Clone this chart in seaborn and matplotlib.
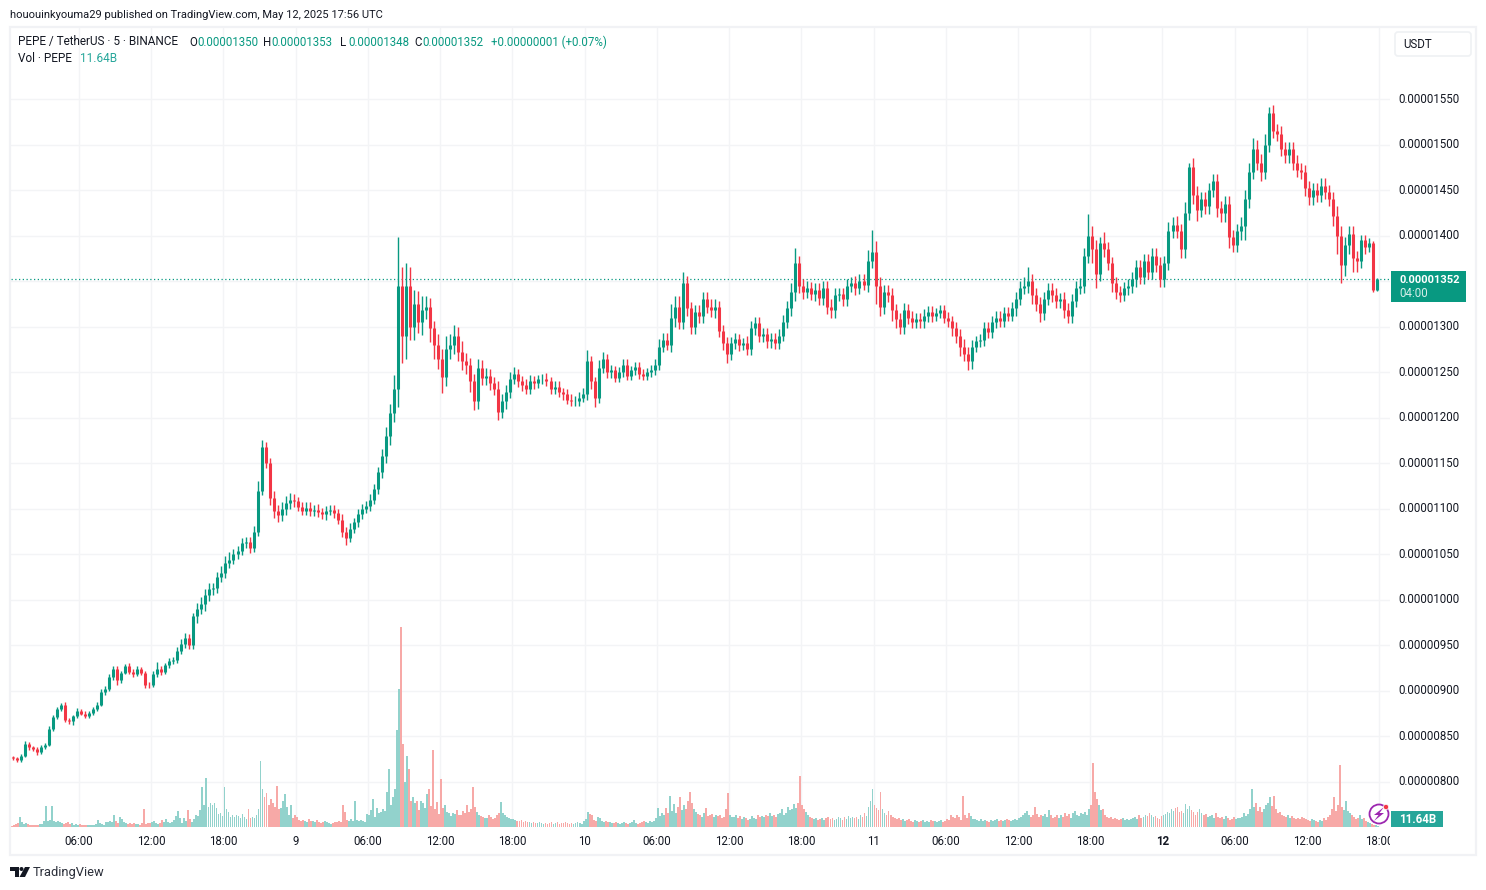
import matplotlib
matplotlib.use("Agg")
import matplotlib.pyplot as plt
import numpy as np
import seaborn as sns
from matplotlib.patches import Circle, FancyBboxPatch, Polygon, Rectangle
from matplotlib.transforms import Bbox, TransformedBbox

UP = "#089981"
DOWN = "#f23645"
VOL_UP = "#92d2cc"
VOL_DOWN = "#f7a9a7"
GRID = "#f3f4f6"
TEXT = "#131722"

# 20 minute bars, prices in 1e-8 USDT, first bar May 8 00:30
close = [
    826, 824, 829, 842, 838, 836, 833, 838, 841, 858,
    871, 880, 884, 868, 867, 872, 878, 875, 872, 876,
    880, 885, 899, 902, 915, 924, 912, 920, 927, 921,
    918, 924, 920, 907, 906, 918, 924, 921, 928, 933,
    934, 944, 952, 958, 950, 982, 990, 995, 1005, 1012,
    1013, 1025, 1030, 1040, 1044, 1050, 1054, 1062, 1064, 1057,
    1075, 1120, 1168, 1150, 1112, 1098, 1093, 1100, 1106, 1110,
    1108, 1102, 1098, 1101, 1097, 1099, 1096, 1094, 1098, 1099,
    1095, 1088, 1075, 1068, 1078, 1085, 1094, 1100, 1103, 1110,
    1122, 1140, 1158, 1180, 1205, 1232, 1345, 1290, 1345, 1300,
    1325, 1305, 1318, 1322, 1298, 1280, 1265, 1245, 1275, 1280,
    1290, 1272, 1262, 1258, 1240, 1218, 1255, 1244, 1246, 1238,
    1232, 1206, 1218, 1228, 1243, 1248, 1240, 1236, 1232, 1240,
    1238, 1242, 1243, 1240, 1232, 1234, 1228, 1226, 1220, 1218,
    1218, 1222, 1226, 1262, 1240, 1222, 1255, 1264, 1250, 1252,
    1244, 1250, 1258, 1246, 1252, 1256, 1248, 1246, 1250, 1252,
    1258, 1278, 1285, 1280, 1310, 1322, 1305, 1348, 1320, 1300,
    1316, 1312, 1330, 1322, 1318, 1322, 1295, 1282, 1270, 1282,
    1286, 1280, 1282, 1276, 1298, 1304, 1290, 1292, 1284, 1286,
    1282, 1290, 1305, 1320, 1338, 1370, 1345, 1338, 1342, 1336,
    1340, 1332, 1342, 1322, 1318, 1335, 1336, 1330, 1345, 1348,
    1342, 1350, 1346, 1372, 1382, 1345, 1322, 1338, 1335, 1318,
    1308, 1300, 1318, 1310, 1305, 1308, 1306, 1312, 1316, 1312,
    1315, 1318, 1310, 1306, 1298, 1290, 1278, 1270, 1262, 1278,
    1284, 1285, 1298, 1294, 1305, 1310, 1306, 1315, 1312, 1320,
    1330, 1342, 1345, 1350, 1335, 1325, 1315, 1330, 1340, 1335,
    1328, 1330, 1318, 1312, 1328, 1342, 1345, 1378, 1400, 1385,
    1358, 1392, 1385, 1370, 1348, 1338, 1335, 1342, 1345, 1352,
    1365, 1355, 1372, 1360, 1378, 1368, 1352, 1370, 1405, 1412,
    1405, 1385, 1425, 1475, 1445, 1428, 1440, 1432, 1450, 1460,
    1430, 1425, 1435, 1398, 1390, 1405, 1410, 1440, 1470, 1495,
    1480, 1470, 1500, 1535, 1515, 1512, 1495, 1488, 1495, 1480,
    1472, 1470, 1452, 1442, 1450, 1445, 1455, 1448, 1440, 1422,
    1400, 1368, 1390, 1402, 1375, 1372, 1395, 1388, 1392, 1340,
    1352,
]
wick_up = [
    2, 1, 2, 3, 2, 2, 2, 3, 2, 3,
    2, 2, 3, 4, 2, 2, 3, 2, 3, 2,
    2, 3, 3, 3, 4, 3, 3, 2, 3, 4,
    3, 3, 2, 2, 3, 4, 8, 3, 3, 3,
    3, 4, 5, 6, 5, 4, 6, 8, 7, 6,
    6, 6, 7, 8, 8, 6, 5, 6, 5, 5,
    6, 10, 8, 5, 6, 8, 6, 7, 8, 7,
    6, 5, 5, 6, 6, 5, 6, 5, 5, 5,
    5, 5, 6, 5, 6, 5, 6, 5, 5, 6,
    5, 6, 8, 10, 10, 15, 53, 20, 25, 20,
    15, 14, 16, 12, 10, 8, 12, 10, 15, 12,
    12, 10, 12, 9, 8, 8, 10, 8, 9, 8,
    7, 8, 8, 8, 7, 8, 6, 6, 6, 7,
    6, 5, 5, 6, 5, 6, 6, 5, 5, 6,
    6, 6, 7, 12, 6, 5, 8, 8, 6, 6,
    5, 6, 6, 6, 5, 5, 5, 5, 5, 6,
    6, 8, 8, 8, 15, 12, 12, 12, 8, 7,
    8, 8, 8, 8, 8, 8, 6, 7, 7, 7,
    7, 6, 6, 8, 8, 7, 7, 7, 7, 7,
    7, 7, 8, 8, 10, 16, 8, 7, 8, 7,
    8, 8, 8, 8, 8, 7, 7, 7, 7, 7,
    8, 8, 8, 12, 24, 12, 10, 8, 8, 8,
    7, 7, 8, 7, 7, 7, 7, 7, 7, 7,
    6, 6, 6, 6, 6, 7, 7, 8, 8, 7,
    6, 7, 7, 7, 7, 7, 7, 7, 7, 7,
    8, 8, 10, 15, 8, 8, 8, 8, 8, 8,
    8, 7, 8, 8, 8, 8, 8, 8, 24, 10,
    10, 6, 12, 8, 7, 7, 7, 7, 7, 8,
    8, 8, 8, 8, 8, 8, 8, 8, 10, 8,
    10, 8, 12, 5, 10, 10, 8, 8, 8, 8,
    8, 8, 8, 8, 8, 8, 10, 10, 10, 12,
    10, 10, 12, 6, 8, 8, 8, 8, 8, 8,
    8, 8, 8, 8, 8, 8, 8, 8, 8, 8,
    10, 10, 8, 8, 8, 8, 6, 6, 5, 2,
    1,
]
wick_down = [
    2, 2, 2, 2, 3, 2, 3, 2, 2, 2,
    2, 2, 2, 2, 3, 4, 2, 2, 2, 2,
    2, 2, 2, 3, 2, 3, 5, 3, 2, 2,
    3, 2, 3, 4, 3, 2, 3, 4, 2, 3,
    3, 3, 4, 5, 4, 4, 8, 6, 7, 6,
    7, 5, 5, 6, 5, 5, 5, 5, 5, 6,
    5, 5, 5, 5, 8, 8, 7, 6, 7, 6,
    6, 5, 5, 5, 5, 5, 5, 5, 6, 5,
    5, 5, 6, 8, 5, 5, 5, 5, 5, 5,
    5, 6, 6, 8, 10, 10, 20, 30, 25, 15,
    15, 12, 14, 10, 15, 15, 12, 18, 10, 10,
    10, 10, 10, 10, 12, 10, 8, 8, 8, 8,
    7, 8, 6, 8, 6, 6, 6, 7, 6, 6,
    6, 5, 5, 5, 6, 6, 5, 6, 5, 5,
    5, 5, 5, 6, 8, 10, 6, 6, 6, 6,
    5, 5, 5, 5, 5, 5, 5, 5, 5, 5,
    5, 6, 6, 6, 8, 10, 8, 8, 8, 8,
    8, 8, 8, 7, 7, 8, 6, 8, 10, 7,
    7, 7, 6, 7, 7, 7, 7, 7, 7, 7,
    7, 7, 6, 6, 8, 10, 8, 8, 7, 7,
    8, 8, 8, 8, 8, 8, 7, 7, 7, 7,
    7, 6, 6, 8, 8, 20, 10, 8, 8, 12,
    10, 8, 8, 7, 7, 7, 7, 7, 7, 7,
    6, 6, 6, 6, 8, 8, 10, 8, 10, 8,
    6, 6, 6, 6, 6, 6, 6, 6, 6, 6,
    8, 6, 6, 8, 10, 8, 10, 8, 6, 8,
    8, 8, 8, 8, 8, 6, 6, 8, 8, 15,
    15, 8, 8, 8, 10, 8, 8, 7, 7, 8,
    8, 8, 8, 8, 8, 8, 8, 8, 8, 8,
    8, 10, 10, 8, 10, 12, 8, 8, 8, 8,
    10, 10, 10, 12, 8, 8, 10, 15, 10, 8,
    8, 10, 8, 8, 8, 8, 8, 8, 8, 8,
    8, 8, 8, 8, 8, 8, 8, 8, 8, 12,
    20, 20, 12, 10, 15, 12, 8, 8, 6, 2,
    1,
]
# two volume readings per candle, in billions
volume = [
    5, 10, 15, 20, 50, 25, 15, 20, 15, 10, 10, 10, 10, 10, 15, 15, 30, 105, 30, 35,
    105, 30, 25, 30, 25, 20, 15, 20, 25, 15, 20, 10, 15, 10, 15, 12, 10, 10, 10, 10,
    10, 10, 15, 35, 20, 15, 10, 25, 25, 30, 25, 60, 30, 20, 50, 40, 25, 20, 15, 20,
    15, 20, 15, 15, 10, 20, 90, 15, 20, 20, 25, 30, 20, 15, 20, 35, 25, 40, 25, 20,
    25, 35, 55, 80, 45, 20, 45, 30, 85, 40, 25, 40, 60, 55, 85, 200, 110, 245, 100, 120,
    110, 120, 95, 65, 70, 55, 200, 90, 75, 50, 60, 50, 60, 55, 45, 65, 50, 40, 90, 45,
    50, 45, 60, 90, 330, 190, 150, 170, 110, 140, 120, 100, 205, 90, 95, 130, 165, 100, 60, 110,
    45, 60, 50, 35, 30, 35, 30, 25, 40, 30, 30, 25, 35, 25, 20, 25, 30, 25, 20, 15,
    20, 25, 25, 30, 25, 110, 75, 35, 30, 40, 30, 130, 35, 30, 35, 30, 25, 65, 60, 85,
    140, 50, 95, 70, 75, 90, 80, 175, 290, 110, 150, 190, 485, 690, 1000, 415, 225, 355, 290, 130,
    150, 120, 130, 85, 130, 120, 95, 165, 190, 105, 385, 90, 125, 65, 240, 95, 110, 75, 70, 55,
    70, 65, 85, 60, 60, 80, 70, 110, 75, 90, 200, 100, 75, 60, 55, 50, 45, 45, 60, 50,
    40, 45, 60, 70, 125, 70, 60, 50, 45, 40, 40, 35, 30, 30, 35, 25, 30, 25, 25, 20,
    25, 20, 20, 25, 20, 15, 20, 15, 20, 25, 15, 20, 25, 15, 20, 20, 25, 20, 15, 20,
    15, 20, 25, 20, 15, 30, 40, 75, 65, 60, 35, 30, 50, 45, 30, 25, 30, 25, 25, 20,
    20, 25, 20, 15, 20, 25, 20, 15, 20, 25, 35, 20, 15, 20, 25, 30, 25, 20, 30, 25,
    30, 45, 95, 55, 70, 60, 95, 70, 155, 80, 115, 70, 100, 150, 85, 110, 90, 130, 175, 120,
    90, 75, 65, 60, 50, 70, 95, 55, 60, 65, 50, 60, 55, 60, 45, 50, 90, 170, 60, 50,
    50, 60, 45, 55, 40, 50, 45, 35, 40, 55, 45, 40, 60, 50, 55, 50, 60, 55, 70, 55,
    60, 50, 65, 70, 90, 60, 70, 100, 85, 90, 115, 95, 120, 255, 110, 90, 75, 60, 50, 45,
    40, 45, 35, 40, 45, 35, 45, 50, 40, 45, 35, 40, 50, 45, 35, 50, 40, 55, 45, 50,
    45, 50, 40, 60, 50, 70, 55, 100, 130, 190, 110, 95, 85, 175, 90, 70, 60, 80, 60, 50,
    45, 40, 45, 35, 40, 30, 35, 40, 30, 25, 35, 30, 25, 30, 35, 25, 30, 25, 35, 30,
    30, 25, 30, 35, 25, 30, 40, 35, 60, 50, 45, 60, 50, 35, 155, 60, 45, 70, 55, 40,
    40, 35, 30, 40, 30, 35, 30, 25, 35, 30, 35, 40, 30, 35, 30, 35, 40, 35, 30, 35,
    40, 35, 45, 50, 60, 70, 80, 60, 50, 60, 100, 65, 50, 60, 55, 65, 50, 85, 60, 45,
    50, 60, 45, 60, 50, 70, 55, 65, 45, 70, 80, 60, 55, 70, 65, 75, 60, 90, 110, 320,
    175, 140, 110, 85, 90, 60, 50, 45, 50, 40, 45, 40, 35, 40, 45, 35, 40, 35, 40, 45,
    50, 40, 60, 45, 50, 60, 55, 70, 60, 50, 55, 45, 40, 55, 60, 65, 75, 70, 90, 80,
    95, 100, 75, 80, 70, 115, 90, 105, 85, 75, 60, 75, 90, 70, 60, 65, 50, 55, 60, 45,
    70, 50, 45, 50, 40, 55, 45, 35, 40, 50, 40, 45, 45, 50, 70, 55, 65, 90, 190, 100,
    120, 80, 100, 75, 90, 110, 120, 150, 105, 155, 90, 70, 75, 60, 55, 50, 60, 45, 55, 45,
    40, 45, 40, 50, 45, 40, 35, 30, 40, 35, 30, 25, 35, 30, 45, 35, 50, 60, 90, 150,
    80, 110, 310, 100, 85, 130, 80, 70, 60, 50, 40, 45, 60, 40, 45, 30, 25, 20, 15, 10,
    10, 5,
]

price_ticks = list(range(800, 1551, 50))
time_ticks = [6, 12, 18, 24, 30, 36, 42, 48, 54, 60, 66, 72, 78, 84, 90, 96, 102, 108, 114]
time_labels = ["06:00", "12:00", "18:00", "9", "06:00", "12:00", "18:00", "10", "06:00", "12:00",
               "18:00", "11", "06:00", "12:00", "18:00", "12", "06:00", "12:00", "18:00"]

LAST_PRICE = 1352


def px_box(x0, y0, x1, y1):
    return [x0 / 1486, 1 - y1 / 890, (x1 - x0) / 1486, (y1 - y0) / 890]


def draw_candles(ax):
    hours = 0.5 + np.arange(len(close)) / 3
    c = np.array(close, dtype=float)
    o = np.r_[c[0] + 1, c[:-1]]
    rising = c >= o
    colors = np.where(rising, UP, DOWN)
    top = np.maximum(o, c) + np.array(wick_up)
    bot = np.minimum(o, c) - np.array(wick_down)
    ax.vlines(hours, bot, top, colors=colors, linewidth=1.0, zorder=3)
    ax.vlines(hours, o, c, colors=colors, linewidth=2.2, zorder=4)
    return rising


def draw_volume(ax, rising):
    hours = np.round(0.5 + (np.arange(len(volume)) - 0.5) / 6, 4)
    side = ["up" if rising[i // 2] else "down" for i in range(len(volume))]
    sns.barplot(
        x=hours,
        y=volume,
        hue=side,
        palette={"up": VOL_UP, "down": VOL_DOWN},
        native_scale=True,
        dodge=False,
        errorbar=None,
        width=0.9,
        saturation=1,
        linewidth=0,
        antialiased=False,
        legend=False,
        ax=ax,
    )


def draw_overlay(fig):
    ov = fig.add_axes([0, 0, 1, 1], zorder=10)
    ov.set_xlim(0, 1486)
    ov.set_ylim(890, 0)
    ov.axis("off")
    ov.patch.set_alpha(0)

    # frame around the chart
    ov.add_patch(Rectangle((10, 27), 1466, 828, fill=False, edgecolor="#f1f2f5", linewidth=1.6))

    ov.text(10, 15, "hououinkyouma29 published on TradingView.com, May 12, 2025 17:56 UTC",
            fontsize=8.0, color=TEXT, va="center")

    # legend lines
    ov.text(18, 42, "PEPE / TetherUS · 5 · BINANCE", fontsize=8.5, color=TEXT, va="center")
    for x, letter, value in [(189, "O", "0.00001350"), (263, "H", "0.00001353"),
                             (340, "L", "0.00001348"), (414, "C", "0.00001352")]:
        ov.text(x, 42, letter, fontsize=8.3, color=TEXT, va="center")
        ov.text(x + 8, 42, value, fontsize=8.3, color=UP, va="center")
    ov.text(491, 42, "+0.00000001 (+0.07%)", fontsize=8.3, color=UP, va="center")
    ov.text(18, 59, "Vol · PEPE", fontsize=8.5, color=TEXT, va="center")
    ov.text(80, 59, "11.64B", fontsize=8.5, color="#26a69a", va="center")

    # currency button
    ov.add_patch(FancyBboxPatch((1396, 33), 74, 22, boxstyle="round,pad=1,rounding_size=3",
                                facecolor="white", edgecolor="#eff1f4", linewidth=1.2))
    ov.text(1403, 44.5, "USDT", fontsize=8.3, color=TEXT, va="center")

    # last price and volume tags
    ov.add_patch(Rectangle((1391, 271), 75, 31, facecolor=UP, edgecolor="none"))
    ov.text(1399, 280, "0.00001352", fontsize=8.0, color="white", va="center", fontweight="bold")
    ov.text(1399, 293.5, "04:00", fontsize=8.3, color="#d5eee9", va="center")
    ov.add_patch(Rectangle((1391, 811), 52, 16, facecolor="#26a69a", edgecolor="none"))
    ov.text(1399, 819.5, "11.64B", fontsize=8.3, color="white", va="center", fontweight="bold")

    # lightning badge
    ov.add_patch(Circle((1379, 814), 9.5, facecolor="white", edgecolor="#9c27b0", linewidth=1.3))
    ov.add_patch(Polygon([(1384, 807), (1374, 815), (1378.5, 815), (1374, 821), (1384, 813), (1379.5, 813)],
                         facecolor="#9c27b0", edgecolor="none"))
    ov.add_patch(Circle((1386, 807), 2.6, facecolor="#f23645", edgecolor="white", linewidth=0.5))

    # footer logo
    ov.add_patch(Polygon([(10, 867), (19, 867), (19, 877), (15, 877), (15, 871), (10, 871)],
                         facecolor="#131722", edgecolor="none"))
    ov.add_patch(Circle((21.5, 869), 2, facecolor="#131722", edgecolor="none"))
    ov.add_patch(Polygon([(25, 867), (30, 867), (25, 877), (19.5, 877)], facecolor="#131722", edgecolor="none"))
    ov.text(33, 872.5, "TradingView", fontsize=9.3, color="#2a2e39", va="center")


def main():
    sns.set_theme(style="white")
    plt.rcParams["font.family"] = ["Roboto", "DejaVu Sans"]

    fig = plt.figure(figsize=(14.86, 8.9), dpi=100, facecolor="white")
    x_limits = (0.352, 114.9)

    ax_vol = fig.add_axes(px_box(11, 28, 1390, 827), zorder=2)
    ax = fig.add_axes(px_box(11, 28, 1390, 827), zorder=1)

    ax.set_xlim(*x_limits)
    ax.set_ylim(750.5, 1628)
    ax.set_yticks(price_ticks)
    # the 1350 label sits behind the last price tag
    ax.set_yticklabels(["" if p == 1350 else f"0.{p:08d}" for p in price_ticks])
    ax.yaxis.tick_right()
    ax.set_xticks(time_ticks)
    ax.set_xticklabels(time_labels)
    ax.tick_params(axis="y", length=0, pad=6, labelsize=8.3, labelcolor=TEXT)
    ax.tick_params(axis="x", length=0, pad=6, labelsize=8.3, labelcolor=TEXT)
    ax.grid(True, color=GRID, linewidth=1)
    ax.set_axisbelow(True)
    for spine in ax.spines.values():
        spine.set_visible(False)
    ax.axhline(LAST_PRICE, color=UP, linewidth=0.9, linestyle=(0, (1, 2)), zorder=2)

    rising = draw_candles(ax)

    ax_vol.patch.set_alpha(0)
    draw_volume(ax_vol, rising)
    ax_vol.set_xlim(*x_limits)
    ax_vol.set_ylim(0, 3995)
    ax_vol.axis("off")

    clip = TransformedBbox(Bbox([[0, 0], [1390 / 1486, 1]]), fig.transFigure)
    for label in ax.get_xticklabels():
        if label.get_text() == "12":
            label.set_fontweight("bold")
    last_label = ax.get_xticklabels()[-1]
    last_label.set_clip_box(clip)
    last_label.set_clip_on(True)
    for label in ax.get_yticklabels():
        label.set_verticalalignment("center")

    draw_overlay(fig)

    fig.savefig("out.png", dpi=100)


if __name__ == "__main__":
    main()
